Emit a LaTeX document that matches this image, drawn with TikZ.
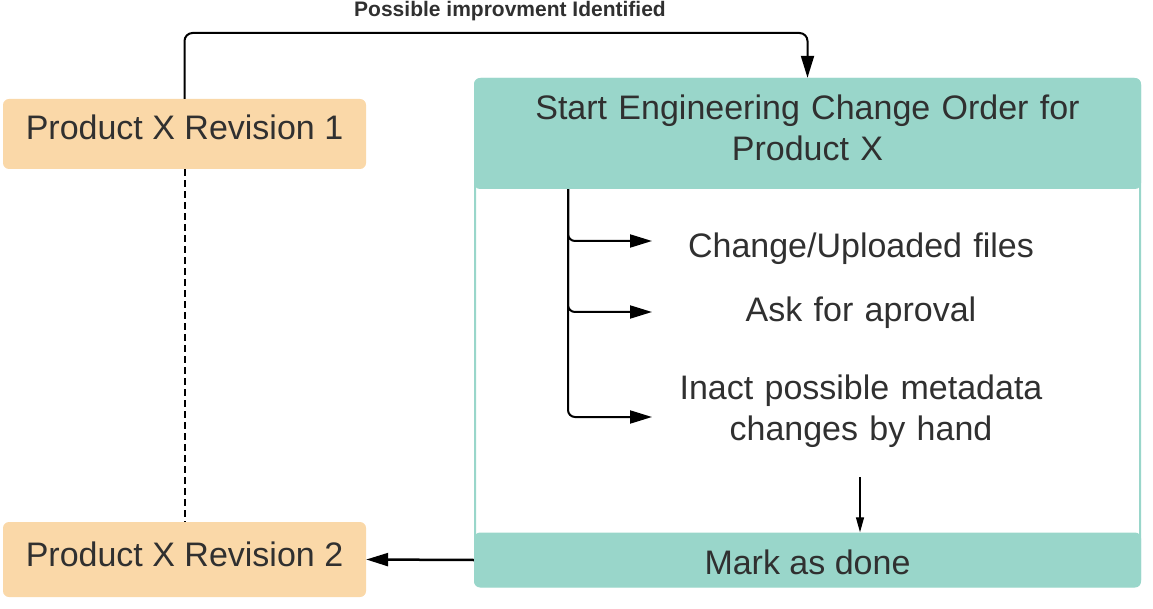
\documentclass[tikz,border=0pt]{standalone}
\usepackage{fontspec}
\setmainfont{Liberation Sans}
\usetikzlibrary{arrows.meta}
\definecolor{peach}{RGB}{250,216,168}
\definecolor{ecoteal}{RGB}{153,214,202}
\definecolor{inkgray}{RGB}{48,48,48}
\begin{document}
\begin{tikzpicture}[x=1pt,y=-1pt,
    every node/.style={text=inkgray,inner sep=0pt,font=\fontsize{34}{41}\selectfont},
    revision/.style={fill=peach,rounded corners=6pt,minimum width=363pt},
    band/.style={fill=ecoteal,rounded corners=6pt,minimum width=667pt},
    link/.style={line width=2pt,-{Triangle[length=22pt,width=13pt]}},
    fork/.style={link,rounded corners=7pt}]
  \useasboundingbox (0,0) rectangle (1153,609);

  % left column
  \node[revision,minimum height=70pt,text height=24pt,text depth=12pt] (rev1) at (184.5,134) {Product X Revision 1};
  \node[revision,minimum height=75pt,text height=24pt,text depth=10pt] (rev2) at (184.5,559.5) {Product X Revision 2};

  % change order lane
  \node[draw=ecoteal,line width=2pt,rounded corners=6pt,minimum width=665pt,minimum height=507pt] (eco) at (807.5,332.5) {};
  \node[band,minimum height=111pt,text width=640pt,align=center,text height=24pt,text depth=51pt] (head) at (807.5,133.5) {Start Engineering Change Order for\\Product X};
  \node[band,minimum height=55pt,text height=28pt,text depth=0pt] (done) at (807.5,560) {Mark as done};

  \node[text width=400pt,align=center] (s1) at (861,249) {Change/Uploaded files\strut};
  \node[text width=400pt,align=center] (s2) at (861,313) {Ask for aproval\strut};
  \node[text width=400pt,align=center] (s3) at (861,414) {Inact possible metadata\\changes by hand\strut};

  \node[font=\fontsize{21}{24}\selectfont\bfseries] (improve) at (510,11) {Possible improvment Identified};

  \coordinate (bend) at (510,33);
  \coordinate (trunk) at (568,0);
  \coordinate (a1) at (652,241);
  \coordinate (a2) at (652,312);
  \coordinate (a3) at (652,417);
  \coordinate (d0) at (860,477);

  % connectors
  \draw[link,rounded corners=8pt] (rev1.north) |- (bend) -| (head.north);
  \draw[line width=2pt,dash pattern=on 7pt off 4pt] (rev1.south) -- (rev2.north);
  \draw[fork] (head.south -| trunk) |- (a1);
  \draw[fork] (head.south -| trunk) |- (a2);
  \draw[fork] (head.south -| trunk) |- (a3);
  \draw[line width=1.3pt,-{Triangle[length=15pt,width=8pt]}] (d0) -- (d0 |- done.north);
  \draw[link,line width=2.5pt] (done.west) -- (rev2.east);
\end{tikzpicture}
\end{document}
